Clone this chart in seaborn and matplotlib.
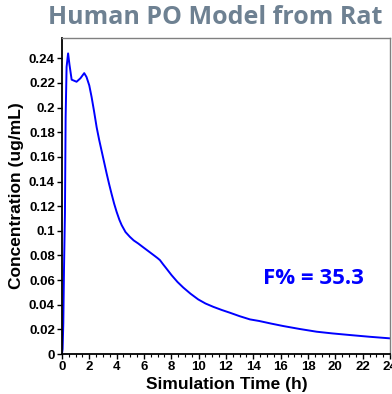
#!/usr/bin/env python3
"""Human PO model simulated from rat: plasma concentration over time."""

import matplotlib as mpl
import matplotlib.pyplot as plt
import pandas as pd
import seaborn as sns
from matplotlib.ticker import MultipleLocator, FuncFormatter

mpl.use('Agg')

# Concentration-time curve
time_h = [0.0, 0.05, 0.1, 0.15, 0.22, 0.27, 0.34, 0.45, 0.55, 0.71, 1.07,
          1.35, 1.63, 1.8, 2.0, 2.17, 2.35, 2.54, 2.72, 2.9, 3.1, 3.27, 3.45,
          3.63, 3.82, 4.0, 4.2, 4.37, 4.65, 4.97, 5.25, 5.58, 5.9, 6.2, 6.5,
          6.8, 7.0, 7.17, 7.4, 7.6, 8.02, 8.45, 8.87, 9.4, 9.97, 10.5, 11.07,
          11.7, 12.29, 13.0, 13.75, 14.43, 15.3, 16.19, 17.4, 18.63, 19.8,
          21.07, 22.5, 24.0]
conc = [0.0, 0.004, 0.025, 0.068, 0.114, 0.192, 0.233, 0.244, 0.235, 0.2227,
        0.221, 0.2238, 0.228, 0.2248, 0.218, 0.2086, 0.197, 0.184, 0.174,
        0.165, 0.155, 0.1465, 0.138, 0.130, 0.122, 0.1154, 0.109, 0.1046,
        0.099, 0.0951, 0.0922, 0.0897, 0.087, 0.0845, 0.082, 0.0795, 0.0778,
        0.0762, 0.0728, 0.070, 0.064, 0.0585, 0.054, 0.049, 0.0443, 0.0410,
        0.0383, 0.0357, 0.0335, 0.0307, 0.0281, 0.0268, 0.0247, 0.0227,
        0.0203, 0.0181, 0.0167, 0.0154, 0.0140, 0.0127]
f_percent = 35.3

TITLE = "Human PO Model from Rat"
X_LABEL = "Simulation Time (h)"
Y_LABEL = "Concentration (ug/mL)"


def main():
    sns.set_style("ticks")
    plt.rcParams['font.family'] = ['Liberation Sans', 'DejaVu Sans']
    plt.rcParams.update({'text.color': 'black', 'axes.labelcolor': 'black',
                         'xtick.color': 'black', 'ytick.color': 'black'})

    df = pd.DataFrame({"time": time_h, "conc": conc})

    fig = plt.figure(figsize=(3.92, 3.94), dpi=100)
    ax = fig.add_axes([0.158, 0.1015, 0.837, 0.802])
    sns.lineplot(data=df, x="time", y="conc", ax=ax, color="#0000FF",
                 linewidth=1.4)

    # Axes
    ax.set_xlim(0, 24)
    ax.set_ylim(0, 0.2565)
    ax.xaxis.set_major_locator(MultipleLocator(2))
    ax.xaxis.set_minor_locator(MultipleLocator(0.5))
    ax.yaxis.set_major_locator(MultipleLocator(0.02))
    ax.yaxis.set_major_formatter(FuncFormatter(
        lambda v, _: f"{v:.2f}".rstrip("0").rstrip(".") if v else "0"))
    ax.tick_params(axis="both", which="major", length=3.5, width=1,
                   labelsize=9.5, pad=1.5, color="black", labelcolor="black")
    ax.tick_params(axis="x", which="minor", length=2, width=0.8)
    for lab in ax.get_xticklabels() + ax.get_yticklabels():
        lab.set_fontweight("bold")
    ax.set_xlabel(X_LABEL, fontsize=12.5, fontweight="bold", color="black")
    ax.set_ylabel(Y_LABEL, fontsize=12.5, fontweight="bold", color="black")
    ax.xaxis.set_label_coords(0.503, -0.072)
    ax.yaxis.set_label_coords(-0.115, 0.5)
    for side in ["left", "bottom"]:
        ax.spines[side].set_color("black")
        ax.spines[side].set_linewidth(1.3)
    for side in ["top", "right"]:
        ax.spines[side].set_color("#808080")
        ax.spines[side].set_linewidth(1)

    # Annotations
    fig.text(0.548, 0.955, TITLE, ha="center", va="center", fontsize=18,
             fontweight="bold", color="#6E8192", family=["Open Sans", "DejaVu Sans"])
    ax.text(0.768, 0.24, f"F% = {f_percent}", transform=ax.transAxes,
            ha="center", va="center", fontsize=16, fontweight="bold",
            color="#0000FF", family=["Open Sans", "DejaVu Sans"])

    fig.savefig("out.png", dpi=100)
    plt.close(fig)


if __name__ == '__main__':
    main()
